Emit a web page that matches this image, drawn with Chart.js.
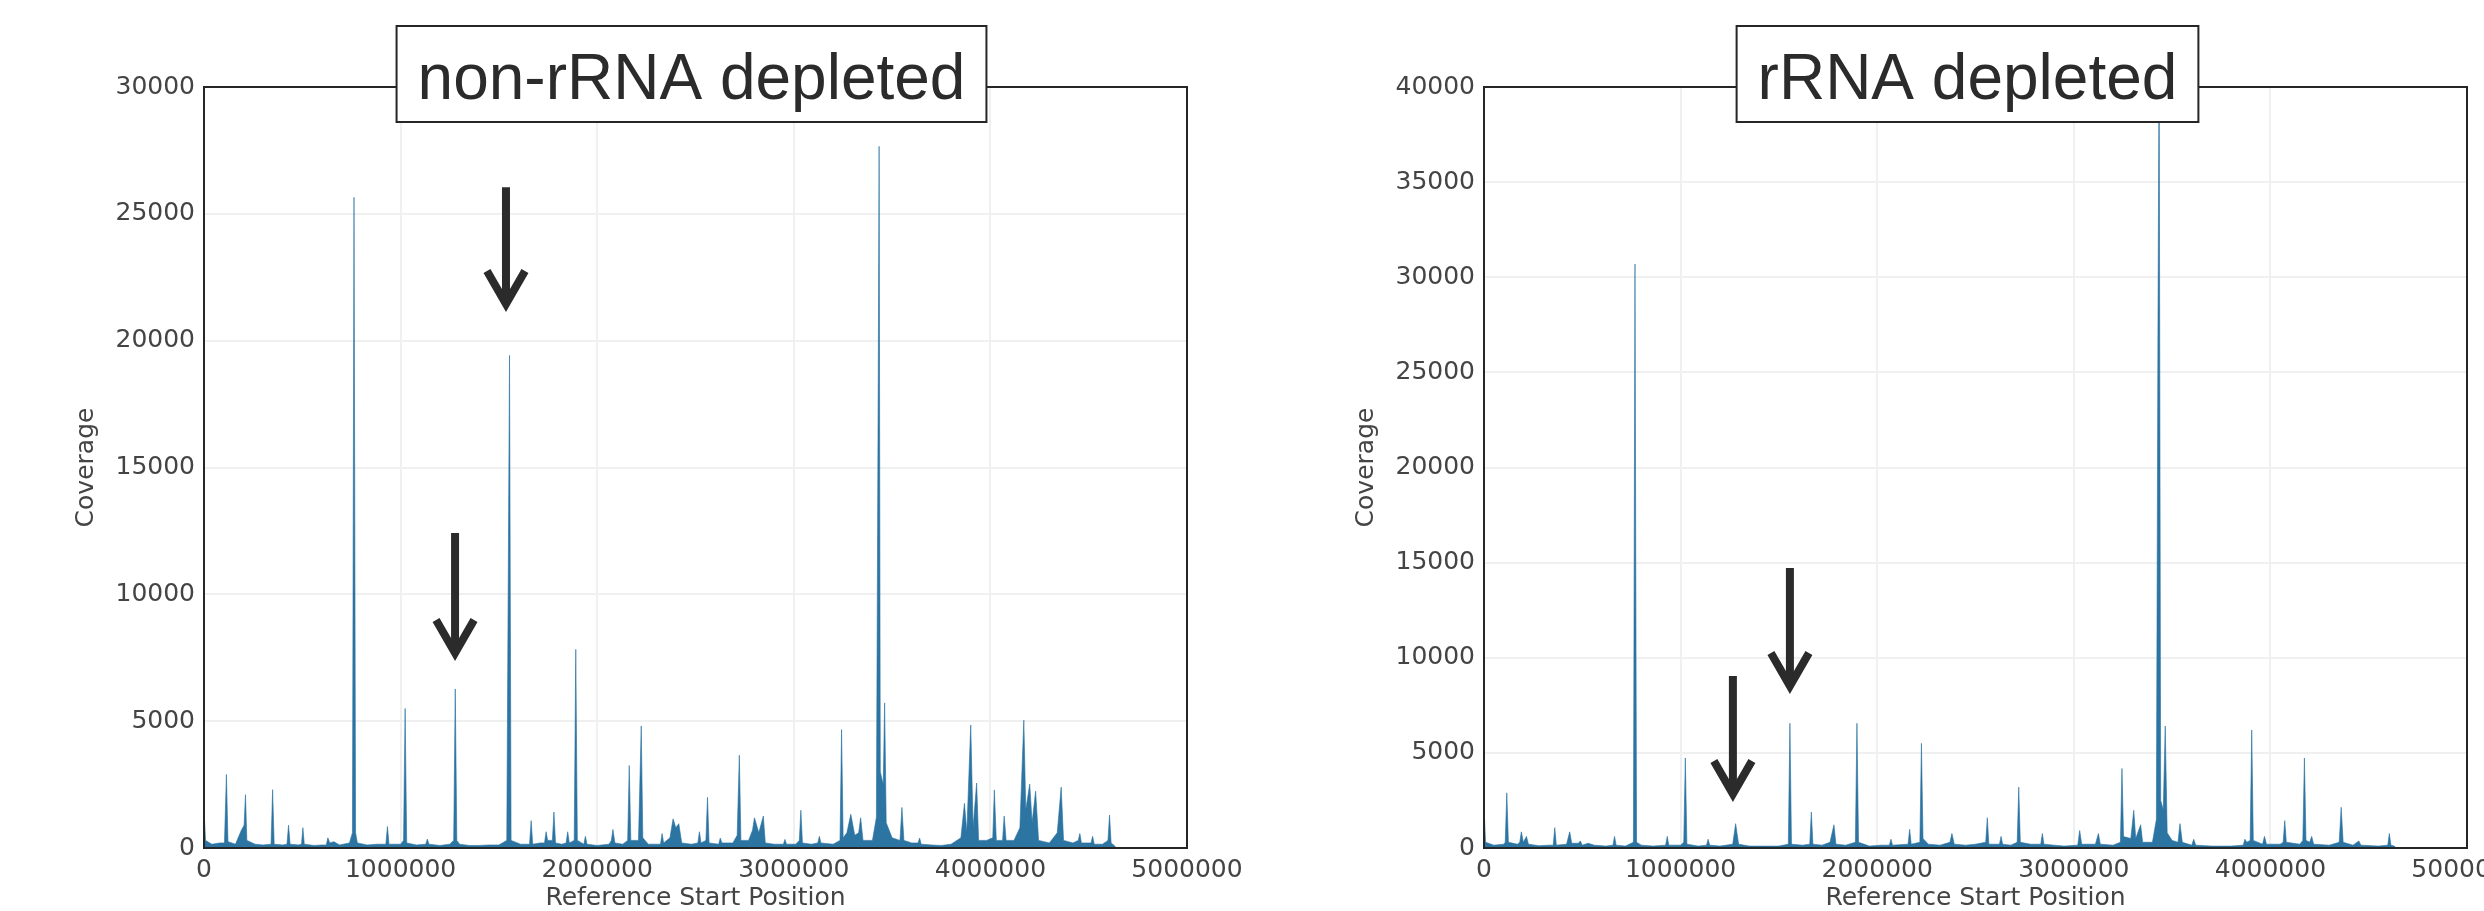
<!DOCTYPE html>
<html>
<head>
<meta charset="utf-8">
<script src="https://cdn.jsdelivr.net/npm/chart.js@4.4.1/dist/chart.umd.min.js"></script>
<style>
  html, body { margin: 0; padding: 0; background: #ffffff; overflow: hidden; width: 2484px; height: 911px; }
  canvas { position: absolute; top: 0; }
  #c1 { left: 0px; }
  #c2 { left: 1280px; }
</style>
</head>
<body>
<canvas id="c1" width="1242" height="911"></canvas>
<canvas id="c2" width="1242" height="911"></canvas>
<script>
// ---------------- DATA ----------------
const panelTitles = ["non-rRNA depleted", "rRNA depleted"];
const xAxisTitle = "Reference Start Position";
const yAxisTitle = "Coverage";
const xMax = 5000000;
const yMaxNon = 30000;
const yMaxDep = 40000;

// non-rRNA depleted: reference start position (bp) and coverage
const nonPos = [0,8000,40000,80000,104000,114000,122000,160000,190000,204000,211000,218000,260000,300000,341000,349000,357000,400000,422000,430000,438000,480000,496000,503000,510000,560000,600000,622000,630000,640000,660000,690000,740000,755000,763000,771000,780000,830000,880000,925000,933000,941000,1000000,1015000,1023000,1031000,1080000,1128000,1136000,1144000,1200000,1250000,1270000,1278000,1286000,1300000,1350000,1400000,1450000,1500000,1540000,1554000,1562000,1610000,1656000,1664000,1672000,1710000,1732000,1740000,1748000,1772000,1780000,1788000,1820000,1842000,1850000,1858000,1883000,1891000,1899000,1932000,1940000,1948000,2000000,2060000,2072000,2080000,2090000,2130000,2155000,2163000,2171000,2210000,2224000,2232000,2260000,2300000,2322000,2330000,2338000,2370000,2386000,2400000,2415000,2430000,2480000,2512000,2520000,2528000,2553000,2561000,2569000,2618000,2626000,2634000,2690000,2712000,2723000,2731000,2770000,2790000,2800000,2822000,2845000,2855000,2900000,2947000,2955000,2963000,3010000,3028000,3036000,3044000,3090000,3122000,3130000,3138000,3200000,3235000,3243000,3251000,3270000,3290000,3310000,3330000,3340000,3352000,3400000,3420000,3430000,3434000,3440000,3455000,3462000,3470000,3500000,3540000,3550000,3560000,3600000,3632000,3640000,3648000,3700000,3750000,3800000,3850000,3868000,3880000,3900000,3912000,3930000,3940000,3980000,4012000,4020000,4030000,4062000,4070000,4080000,4120000,4150000,4170000,4180000,4200000,4212000,4230000,4245000,4300000,4340000,4360000,4372000,4420000,4447000,4455000,4463000,4512000,4520000,4528000,4570000,4598000,4606000,4614000,4630000,4640000];
const nonCov = [1500,300,150,200,200,2900,250,150,700,900,2100,300,150,120,150,2300,150,120,150,900,150,120,150,800,150,100,120,120,400,200,250,120,200,600,25650,600,200,120,150,150,850,150,150,300,5500,200,120,150,350,150,100,150,300,6270,300,150,100,100,120,120,300,19420,300,150,150,1080,150,200,200,640,300,300,1420,200,150,200,640,200,300,7830,300,150,460,150,100,150,300,730,200,150,300,3250,300,300,4810,400,150,150,150,570,200,400,1150,800,960,200,150,200,640,200,300,2000,200,150,390,200,200,500,3660,300,300,700,1190,600,1260,200,150,150,340,150,150,300,1490,200,150,200,460,200,150,300,4670,400,600,1330,500,600,1190,300,300,1200,19400,27660,3000,2500,5720,1000,400,300,1600,300,200,200,390,150,120,100,150,400,1760,600,4850,800,2560,300,300,400,2290,300,300,1260,300,300,800,5040,1500,2520,1000,2240,300,200,600,2400,300,200,300,570,200,200,460,150,150,300,1300,200,100,0];

// rRNA depleted: reference start position (bp) and coverage
const depPos = [0,8000,50000,100000,108000,116000,124000,170000,182000,190000,200000,216000,226000,280000,330000,352000,360000,368000,420000,436000,446000,480000,490000,500000,530000,560000,620000,656000,664000,672000,720000,760000,768000,776000,800000,860000,924000,932000,940000,1000000,1016000,1024000,1032000,1090000,1132000,1140000,1148000,1200000,1265000,1280000,1295000,1350000,1420000,1500000,1548000,1556000,1564000,1620000,1657000,1665000,1673000,1720000,1760000,1780000,1790000,1840000,1889000,1897000,1905000,1960000,2020000,2062000,2070000,2078000,2157000,2165000,2173000,2217000,2225000,2233000,2260000,2320000,2370000,2380000,2392000,2450000,2500000,2552000,2560000,2568000,2622000,2630000,2638000,2680000,2712000,2720000,2728000,2780000,2832000,2840000,2848000,2900000,2950000,3020000,3030000,3040000,3110000,3125000,3135000,3200000,3237000,3245000,3253000,3290000,3305000,3315000,3340000,3350000,3400000,3420000,3428000,3434000,3442000,3455000,3465000,3475000,3500000,3530000,3540000,3552000,3600000,3610000,3620000,3700000,3800000,3862000,3870000,3880000,3897000,3905000,3913000,3960000,3970000,3980000,4050000,4065000,4073000,4081000,4150000,4165000,4173000,4181000,4200000,4210000,4220000,4300000,4350000,4360000,4370000,4420000,4450000,4460000,4550000,4597000,4605000,4613000,4630000,4640000];
const depCov = [2140,300,150,200,300,2900,300,200,300,850,300,610,200,120,150,150,1070,150,200,850,250,250,370,150,250,150,100,150,610,150,100,300,30690,300,150,100,150,610,150,150,300,4730,200,100,150,460,150,100,200,1280,200,100,100,100,200,6560,200,150,200,1890,200,150,300,1220,200,150,300,6560,300,100,150,150,460,150,200,980,200,300,5500,500,200,150,300,760,200,150,200,300,1590,200,200,610,200,150,300,3200,300,200,200,760,200,150,100,150,920,200,200,760,200,150,300,4180,600,500,1980,500,1220,300,300,1500,27100,42000,2500,2000,6410,800,400,300,1280,300,150,460,150,100,100,150,460,300,400,6200,400,200,610,200,200,300,1440,300,200,400,4730,400,300,610,200,150,300,2140,300,150,370,150,100,150,760,150,100,0];

// annotation arrows (data units: position, arrow top, arrow tip)
const arrowsNon = [{x:1536000, top:26050, tip:21130}, {x:1277000, top:12420, tip:7370}];
const arrowsDep = [{x:1556000, top:14717, tip:8095}, {x:1266000, top:9040, tip:2418}];

// ---------------- DRAWING ----------------
const PLOT_LEFT = 204, PLOT_TOP = 87, PLOT_RIGHT_PAD = 55, XAXIS_H = 63;
const tickFont = { family: "DejaVu Sans", size: 25 };
const tickColor = "#444444";

const decorPlugin = {
  id: 'decor',
  afterDraw(chart, args, opts) {
    const ctx = chart.ctx, ca = chart.chartArea;
    const xs = chart.scales.x, ys = chart.scales.y;
    ctx.save();
    // frame
    ctx.strokeStyle = '#262626';
    ctx.lineWidth = 2;
    ctx.strokeRect(ca.left, ca.top, ca.right - ca.left, ca.bottom - ca.top);
    // arrows
    ctx.strokeStyle = '#2b2b2b';
    ctx.lineWidth = 8;
    ctx.lineJoin = 'miter';
    ctx.lineCap = 'butt';
    (opts.arrows || []).forEach(a => {
      const x = xs.getPixelForValue(a.x);
      const yt = ys.getPixelForValue(a.top);
      const yp = ys.getPixelForValue(a.tip);
      const tipY = yp - 8;
      ctx.beginPath();
      ctx.moveTo(x, yt);
      ctx.lineTo(x, tipY - 4);
      ctx.stroke();
      ctx.beginPath();
      ctx.moveTo(x - 19, tipY - 33);
      ctx.lineTo(x, tipY);
      ctx.lineTo(x + 19, tipY - 33);
      ctx.stroke();
    });
    // title box
    ctx.font = '64px "Liberation Sans", Arial, sans-serif';
    const tw = ctx.measureText(opts.title).width;
    const bw = tw + 42;
    const cx = (ca.left + ca.right) / 2 + (opts.dx || 0);
    const bx = cx - bw / 2, by = 26, bh = 96;
    ctx.fillStyle = '#ffffff';
    ctx.fillRect(bx, by, bw, bh);
    ctx.strokeStyle = '#262626';
    ctx.lineWidth = 2;
    ctx.strokeRect(bx, by, bw, bh);
    ctx.fillStyle = '#2b2b2b';
    ctx.textAlign = 'center';
    ctx.textBaseline = 'alphabetic';
    ctx.fillText(opts.title, cx, 99);
    ctx.restore();
  }
};

function makeChart(id, pos, cov, yMax, title, arrows, dx) {
  const pts = pos.map((p, i) => ({x: p, y: cov[i]}));
  return new Chart(document.getElementById(id), {
    type: 'line',
    data: {
      datasets: [{
        data: pts,
        borderColor: 'rgba(36,112,160,0.6)',
        borderWidth: 1,
        backgroundColor: '#2c74a2',
        fill: 'origin',
        pointRadius: 0,
        tension: 0
      }]
    },
    options: {
      responsive: false,
      animation: false,
      devicePixelRatio: 1,
      parsing: false,
      layout: { padding: { left: 0, top: PLOT_TOP, right: PLOT_RIGHT_PAD, bottom: 0 } },
      plugins: {
        legend: { display: false },
        tooltip: { enabled: false },
        decor: { title: title, arrows: arrows, dx: dx }
      },
      scales: {
        x: {
          type: 'linear', min: 0, max: xMax,
          border: { display: false },
          grid: { color: '#f0f0f0', lineWidth: 2, drawTicks: false },
          ticks: { stepSize: 1000000, autoSkip: false, maxRotation: 0, padding: 7,
                   font: tickFont, color: tickColor, callback: v => String(v) },
          title: { display: true, text: xAxisTitle, color: tickColor,
                   font: { family: "DejaVu Sans", size: 25, lineHeight: 1 }, padding: { top: 0, bottom: 0 } },
          afterFit: s => { s.height = XAXIS_H; s.paddingLeft = 0; s.paddingRight = 0; }
        },
        y: {
          type: 'linear', min: 0, max: yMax,
          border: { display: false },
          grid: { color: '#f0f0f0', lineWidth: 2, drawTicks: false },
          ticks: { stepSize: 5000, padding: 9, font: tickFont, color: tickColor, callback: v => String(v) },
          title: { display: true, text: yAxisTitle, color: tickColor,
                   font: { family: "DejaVu Sans", size: 25, lineHeight: 1.2 }, padding: { top: 71, bottom: 0 } },
          afterFit: s => { s.width = PLOT_LEFT; s.paddingTop = 0; s.paddingBottom = 0; }
        }
      }
    },
    plugins: [decorPlugin]
  });
}

makeChart('c1', nonPos, nonCov, yMaxNon, panelTitles[0], arrowsNon, -4);
makeChart('c2', depPos, depCov, yMaxDep, panelTitles[1], arrowsDep, -8);
</script>
</body>
</html>
